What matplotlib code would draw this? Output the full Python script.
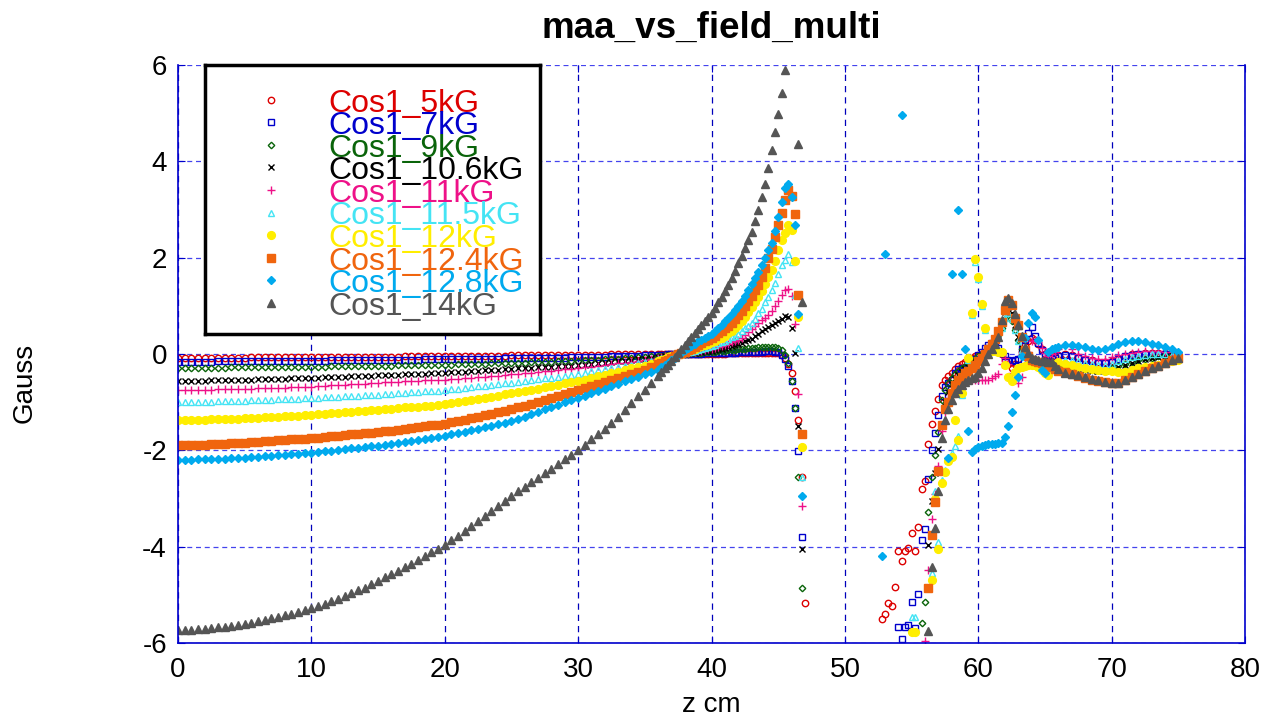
import numpy as np
import matplotlib
matplotlib.use('Agg')
import matplotlib.pyplot as plt

plt.rcParams['font.family'] = ['Liberation Sans', 'DejaVu Sans']
plt.rcParams['axes.unicode_minus'] = False

nan = np.nan
W, H = 1276, 725

# z 위치 (cm): 중앙부는 0.5 간격, 피크 근처는 0.25 간격
z_near = np.concatenate([np.arange(0, 36, 0.5), np.arange(36, 47.01, 0.25)])
z_far = np.concatenate([np.arange(52.75, 66.01, 0.25), np.arange(66.5, 75.01, 0.5)])

labels = ['Cos1_5kG', 'Cos1_7kG', 'Cos1_9kG', 'Cos1_10.6kG', 'Cos1_11kG',
          'Cos1_11.5kG', 'Cos1_12kG', 'Cos1_12.4kG', 'Cos1_12.8kG', 'Cos1_14kG']

# ---- z < 47 cm ----
b5_near = [-0.08, -0.08, -0.08, -0.08, -0.08, -0.08, -0.08, -0.08, -0.08, -0.08, -0.08, -0.07,
           -0.07, -0.07, -0.07, -0.07, -0.07, -0.07, -0.07, -0.07, -0.07, -0.07, -0.07, -0.06,
           -0.06, -0.06, -0.06, -0.06, -0.06, -0.06, -0.06, -0.06, -0.06, -0.06, -0.05, -0.05,
           -0.05, -0.05, -0.05, -0.05, -0.05, -0.05, -0.04, -0.04, -0.04, -0.04, -0.04, -0.04,
           -0.04, -0.04, -0.03, -0.03, -0.03, -0.03, -0.03, -0.03, -0.03, -0.03, -0.02, -0.02,
           -0.02, -0.02, -0.02, -0.02, -0.02, -0.01, -0.01, -0.01, -0.01, -0.01, -0.01, -0.01,
           -0.01, -0.01, 0.00, 0.00, 0.00, 0.00, 0.00, 0.00, 0.00, 0.01, 0.01, 0.01,
           0.01, 0.01, 0.01, 0.01, 0.01, 0.01, 0.01, 0.01, 0.01, 0.02, 0.02, 0.02,
           0.02, 0.02, 0.02, 0.02, 0.02, 0.02, 0.03, 0.03, 0.03, 0.03, 0.03, 0.03,
           0.02, -0.02, -0.08, -0.20, -0.40, -0.76, -1.38, -2.56, -5.16]
b7_near = [-0.16, -0.16, -0.16, -0.16, -0.16, -0.16, -0.15, -0.15, -0.15, -0.15, -0.15, -0.15,
           -0.15, -0.15, -0.15, -0.15, -0.14, -0.14, -0.14, -0.14, -0.14, -0.14, -0.14, -0.13,
           -0.13, -0.13, -0.13, -0.13, -0.13, -0.13, -0.12, -0.12, -0.12, -0.12, -0.12, -0.12,
           -0.12, -0.11, -0.11, -0.11, -0.11, -0.11, -0.11, -0.10, -0.10, -0.10, -0.10, -0.10,
           -0.10, -0.09, -0.09, -0.09, -0.09, -0.09, -0.08, -0.08, -0.08, -0.08, -0.08, -0.07,
           -0.07, -0.07, -0.06, -0.06, -0.06, -0.05, -0.05, -0.05, -0.04, -0.04, -0.03, -0.03,
           -0.02, -0.02, -0.02, -0.01, -0.01, -0.01, 0.00, 0.00, 0.00, 0.01, 0.01, 0.01,
           0.01, 0.01, 0.02, 0.02, 0.02, 0.02, 0.02, 0.03, 0.03, 0.03, 0.03, 0.03,
           0.04, 0.04, 0.04, 0.04, 0.05, 0.05, 0.05, 0.05, 0.06, 0.06, 0.06, 0.05,
           0.04, -0.02, -0.11, -0.24, -0.56, -1.13, -2.01, -3.79, nan]
b9_near = [-0.30, -0.30, -0.30, -0.30, -0.29, -0.29, -0.29, -0.29, -0.28, -0.28, -0.28, -0.28,
           -0.28, -0.27, -0.27, -0.27, -0.27, -0.27, -0.26, -0.26, -0.26, -0.26, -0.26, -0.25,
           -0.25, -0.25, -0.25, -0.25, -0.24, -0.24, -0.24, -0.24, -0.24, -0.23, -0.23, -0.23,
           -0.23, -0.23, -0.22, -0.22, -0.22, -0.22, -0.21, -0.21, -0.20, -0.20, -0.20, -0.19,
           -0.19, -0.19, -0.18, -0.18, -0.18, -0.17, -0.17, -0.16, -0.16, -0.15, -0.15, -0.15,
           -0.14, -0.13, -0.13, -0.12, -0.11, -0.10, -0.10, -0.09, -0.08, -0.07, -0.06, -0.05,
           -0.04, -0.04, -0.03, -0.02, -0.02, -0.01, 0.00, 0.00, 0.01, 0.01, 0.02, 0.02,
           0.03, 0.03, 0.04, 0.04, 0.05, 0.05, 0.06, 0.07, 0.07, 0.08, 0.09, 0.09,
           0.10, 0.10, 0.11, 0.12, 0.12, 0.13, 0.14, 0.14, 0.15, 0.15, 0.15, 0.14,
           0.13, 0.08, -0.02, -0.18, -0.56, -1.13, -2.56, -4.85, nan]
b106_near = [-0.57, -0.57, -0.56, -0.56, -0.56, -0.55, -0.55, -0.54, -0.54, -0.53, -0.53, -0.53,
             -0.52, -0.52, -0.51, -0.51, -0.51, -0.50, -0.50, -0.49, -0.49, -0.49, -0.48, -0.48,
             -0.47, -0.47, -0.46, -0.46, -0.45, -0.45, -0.44, -0.44, -0.43, -0.43, -0.42, -0.42,
             -0.41, -0.41, -0.40, -0.40, -0.39, -0.38, -0.37, -0.37, -0.36, -0.35, -0.34, -0.33,
             -0.33, -0.32, -0.31, -0.30, -0.29, -0.29, -0.28, -0.27, -0.26, -0.25, -0.25, -0.24,
             -0.23, -0.22, -0.20, -0.19, -0.18, -0.17, -0.15, -0.14, -0.13, -0.11, -0.10, -0.09,
             -0.07, -0.06, -0.05, -0.04, -0.03, -0.02, -0.01, 0.00, 0.01, 0.02, 0.03, 0.03,
             0.04, 0.05, 0.06, 0.06, 0.07, 0.08, 0.10, 0.11, 0.12, 0.14, 0.16, 0.18,
             0.20, 0.23, 0.26, 0.29, 0.32, 0.37, 0.42, 0.47, 0.52, 0.56, 0.60, 0.64,
             0.68, 0.72, 0.79, 0.76, 0.55, 0.02, -1.49, -4.05, nan]
b11_near = [-0.75, -0.75, -0.75, -0.74, -0.74, -0.74, -0.73, -0.73, -0.73, -0.72, -0.72, -0.72,
            -0.71, -0.71, -0.70, -0.70, -0.70, -0.69, -0.69, -0.68, -0.68, -0.67, -0.66, -0.65,
            -0.65, -0.64, -0.63, -0.62, -0.62, -0.61, -0.60, -0.59, -0.59, -0.58, -0.57, -0.56,
            -0.56, -0.55, -0.54, -0.54, -0.53, -0.52, -0.51, -0.50, -0.49, -0.48, -0.47, -0.46,
            -0.45, -0.43, -0.42, -0.41, -0.40, -0.39, -0.37, -0.36, -0.35, -0.34, -0.32, -0.31,
            -0.30, -0.28, -0.26, -0.25, -0.23, -0.21, -0.19, -0.18, -0.16, -0.14, -0.12, -0.10,
            -0.08, -0.07, -0.05, -0.04, -0.03, -0.02, -0.01, 0.01, 0.02, 0.03, 0.04, 0.05,
            0.06, 0.07, 0.08, 0.10, 0.11, 0.13, 0.15, 0.17, 0.19, 0.21, 0.24, 0.27,
            0.30, 0.34, 0.39, 0.45, 0.52, 0.58, 0.64, 0.70, 0.75, 0.82, 0.90, 1.00,
            1.10, 1.22, 1.33, 1.34, 1.20, 0.62, -0.84, -3.15, nan]
b115_near = [-1.00, -1.00, -1.00, -0.99, -0.99, -0.99, -0.98, -0.98, -0.98, -0.97, -0.97, -0.96,
             -0.96, -0.95, -0.95, -0.94, -0.94, -0.93, -0.93, -0.92, -0.92, -0.91, -0.90, -0.89,
             -0.89, -0.88, -0.87, -0.87, -0.86, -0.85, -0.85, -0.84, -0.83, -0.81, -0.80, -0.79,
             -0.78, -0.77, -0.76, -0.76, -0.75, -0.73, -0.72, -0.70, -0.69, -0.67, -0.66, -0.64,
             -0.63, -0.61, -0.60, -0.58, -0.56, -0.54, -0.52, -0.50, -0.49, -0.47, -0.45, -0.43,
             -0.41, -0.39, -0.36, -0.34, -0.32, -0.29, -0.27, -0.24, -0.22, -0.19, -0.17, -0.14,
             -0.11, -0.09, -0.08, -0.06, -0.04, -0.03, -0.01, 0.01, 0.02, 0.04, 0.05, 0.07,
             0.09, 0.11, 0.13, 0.15, 0.17, 0.19, 0.22, 0.25, 0.28, 0.31, 0.35, 0.38,
             0.42, 0.47, 0.53, 0.59, 0.65, 0.72, 0.85, 0.94, 1.08, 1.18, 1.32, 1.48,
             1.67, 1.85, 1.96, 2.07, 1.92, 1.22, 0.12, -2.55, nan]
b12_near = [-1.37, -1.37, -1.37, -1.36, -1.36, -1.35, -1.35, -1.35, -1.34, -1.34, -1.33, -1.33,
            -1.32, -1.31, -1.31, -1.30, -1.29, -1.29, -1.28, -1.27, -1.26, -1.25, -1.24, -1.23,
            -1.22, -1.21, -1.20, -1.19, -1.18, -1.17, -1.16, -1.15, -1.14, -1.13, -1.11, -1.10,
            -1.09, -1.08, -1.07, -1.05, -1.04, -1.02, -1.00, -0.98, -0.96, -0.94, -0.91, -0.89,
            -0.87, -0.84, -0.82, -0.79, -0.77, -0.74, -0.72, -0.69, -0.66, -0.64, -0.61, -0.59,
            -0.56, -0.53, -0.50, -0.46, -0.43, -0.40, -0.37, -0.34, -0.30, -0.27, -0.24, -0.20,
            -0.15, -0.12, -0.10, -0.07, -0.05, -0.03, -0.01, 0.01, 0.04, 0.06, 0.08, 0.11,
            0.14, 0.16, 0.19, 0.21, 0.24, 0.27, 0.31, 0.34, 0.38, 0.43, 0.48, 0.54,
            0.60, 0.68, 0.77, 0.87, 0.98, 1.08, 1.19, 1.31, 1.45, 1.60, 1.74, 1.93,
            2.15, 2.37, 2.52, 2.68, 2.57, 1.94, 0.77, -1.94, nan]
b124_near = [-1.89, -1.89, -1.89, -1.88, -1.88, -1.87, -1.87, -1.86, -1.85, -1.85, -1.84, -1.83,
             -1.82, -1.81, -1.80, -1.79, -1.78, -1.77, -1.76, -1.76, -1.75, -1.74, -1.72, -1.71,
             -1.70, -1.68, -1.67, -1.66, -1.64, -1.63, -1.62, -1.60, -1.59, -1.57, -1.55, -1.54,
             -1.52, -1.50, -1.48, -1.47, -1.45, -1.42, -1.39, -1.36, -1.33, -1.30, -1.27, -1.24,
             -1.21, -1.18, -1.15, -1.11, -1.07, -1.03, -0.99, -0.95, -0.91, -0.87, -0.83, -0.79,
             -0.75, -0.71, -0.67, -0.62, -0.58, -0.54, -0.50, -0.46, -0.41, -0.37, -0.33, -0.27,
             -0.21, -0.18, -0.15, -0.12, -0.08, -0.05, -0.01, 0.02, 0.05, 0.08, 0.11, 0.15,
             0.18, 0.22, 0.26, 0.30, 0.34, 0.38, 0.43, 0.48, 0.53, 0.59, 0.65, 0.72,
             0.80, 0.89, 0.99, 1.09, 1.20, 1.32, 1.44, 1.60, 1.78, 1.99, 2.19, 2.43,
             2.68, 2.92, 3.20, 3.40, 3.28, 2.90, 1.22, -1.67, nan]
b128_near = [-2.20, -2.20, -2.20, -2.19, -2.19, -2.18, -2.18, -2.17, -2.16, -2.16, -2.15, -2.14,
             -2.13, -2.12, -2.11, -2.10, -2.09, -2.08, -2.07, -2.06, -2.05, -2.04, -2.02, -2.01,
             -1.99, -1.98, -1.96, -1.95, -1.93, -1.91, -1.90, -1.88, -1.86, -1.84, -1.82, -1.80,
             -1.78, -1.76, -1.74, -1.72, -1.70, -1.67, -1.64, -1.61, -1.58, -1.55, -1.52, -1.49,
             -1.46, -1.43, -1.40, -1.35, -1.30, -1.25, -1.20, -1.15, -1.10, -1.05, -1.00, -0.96,
             -0.92, -0.87, -0.82, -0.77, -0.72, -0.67, -0.62, -0.57, -0.52, -0.47, -0.42, -0.38,
             -0.33, -0.28, -0.23, -0.18, -0.13, -0.08, -0.03, 0.03, 0.08, 0.12, 0.17, 0.21,
             0.26, 0.30, 0.34, 0.38, 0.42, 0.48, 0.54, 0.61, 0.68, 0.75, 0.83, 0.91,
             1.00, 1.10, 1.21, 1.33, 1.45, 1.58, 1.71, 1.85, 2.00, 2.15, 2.30, 2.55,
             2.85, 3.15, 3.45, 3.52, 3.25, 2.68, 0.84, -2.95, nan]
b14_near = [-5.73, -5.73, -5.72, -5.71, -5.70, -5.69, -5.67, -5.66, -5.64, -5.62, -5.60, -5.58,
            -5.55, -5.52, -5.49, -5.46, -5.42, -5.39, -5.35, -5.31, -5.27, -5.23, -5.18, -5.13,
            -5.08, -5.03, -4.97, -4.91, -4.85, -4.78, -4.71, -4.64, -4.57, -4.50, -4.42, -4.35,
            -4.27, -4.19, -4.11, -4.04, -3.97, -3.87, -3.77, -3.67, -3.57, -3.47, -3.36, -3.26,
            -3.16, -3.05, -2.95, -2.85, -2.76, -2.66, -2.57, -2.47, -2.38, -2.28, -2.18, -2.09,
            -1.99, -1.88, -1.77, -1.66, -1.55, -1.43, -1.30, -1.16, -1.02, -0.88, -0.74, -0.60,
            -0.45, -0.37, -0.30, -0.22, -0.14, -0.06, 0.02, 0.10, 0.18, 0.26, 0.35, 0.43,
            0.52, 0.60, 0.68, 0.77, 0.85, 0.96, 1.07, 1.19, 1.30, 1.44, 1.58, 1.73,
            1.88, 2.04, 2.20, 2.37, 2.54, 2.76, 2.99, 3.26, 3.53, 3.86, 4.23, 4.60,
            4.99, 5.41, 5.89, nan, nan, nan, 4.35, 1.07, nan]

# ---- z > 52 cm ----
b5_far = [-5.50, -5.40, -5.16, -5.23, -4.84, -4.10, -4.29, -4.10, -4.02, -3.72, -4.10, -3.60,
          -2.80, -2.63, -1.87, -1.45, -1.18, -0.93, -0.64, -0.53, -0.45, -0.39, -0.32, -0.25,
          -0.20, -0.16, -0.12, -0.08, -0.05, -0.02, 0.00, 0.05, 0.08, 0.10, 0.10, 0.05,
          0.00, -0.12, -0.20, -0.30, -0.20, -0.10, 0.05, 0.18, 0.28, 0.33, 0.30, 0.20,
          0.10, 0.00, -0.05, -0.07, -0.05, -0.02,
          0.00, -0.02, -0.06, -0.10, -0.13, -0.16, -0.17, -0.15, -0.10, -0.05, -0.01, 0.01,
          0.02, 0.02, 0.02, 0.02, 0.01, 0.00]
b7_far = [nan, nan, nan, nan, nan, -5.67, -5.92, -5.66, -5.62, -5.14, -5.69, -4.98,
          -3.86, -3.64, -2.60, -2.00, -1.65, -1.27, -0.87, -0.68, -0.60, -0.53, -0.39, -0.32,
          -0.30, -0.29, -0.22, -0.16, -0.11, -0.03, 0.04, 0.12, 0.19, 0.22, 0.20, 0.12,
          0.02, -0.05, -0.12, -0.15, -0.13, -0.11, 0.10, 0.30, 0.44, 0.57, 0.37, 0.22,
          0.08, -0.02, -0.08, -0.10, -0.08, -0.05,
          -0.02, -0.04, -0.08, -0.12, -0.15, -0.18, -0.19, -0.16, -0.10, -0.05, -0.02, 0.00,
          0.01, 0.01, 0.01, 0.00, 0.00, -0.02]
b9_far = [nan, nan, nan, nan, nan, nan, nan, nan, nan, nan, nan, nan,
          -5.59, -5.14, -3.29, -2.55, -2.10, -1.62, -0.95, -0.75, -0.60, -0.50, -0.42, -0.36,
          -0.30, -0.25, -0.20, -0.15, -0.10, -0.05, 0.00, 0.05, 0.10, 0.15, 0.25, 0.40,
          0.55, 0.72, 0.80, 0.68, 0.50, 0.30, 0.10, -0.05, -0.12, -0.15, -0.17, -0.18,
          -0.20, -0.22, -0.25, -0.20, -0.20, -0.22,
          -0.25, -0.28, -0.30, -0.32, -0.33, -0.34, -0.33, -0.30, -0.25, -0.20, -0.17, -0.13,
          -0.10, -0.08, -0.05, -0.03, -0.02, -0.02]
b106_far = [nan, nan, nan, nan, nan, nan, nan, nan, nan, nan, nan, nan,
            nan, nan, -3.96, -3.05, -2.48, -1.97, -1.45, -1.00, -0.78, -0.62, -0.52, -0.44,
            -0.38, -0.32, -0.27, -0.22, -0.17, -0.12, -0.07, -0.02, 0.03, 0.10, 0.22, 0.40,
            0.65, 0.88, 0.98, 0.85, 0.60, 0.35, 0.12, -0.05, -0.15, -0.20, -0.22, -0.24,
            -0.26, -0.28, -0.30, -0.27, -0.25, -0.26,
            -0.28, -0.30, -0.32, -0.34, -0.35, -0.36, -0.35, -0.32, -0.27, -0.22, -0.18, -0.14,
            -0.11, -0.08, -0.06, -0.04, -0.03, -0.03]
b11_far = [nan, nan, nan, nan, nan, nan, nan, nan, nan, nan, nan, nan,
           nan, -5.95, -4.48, -3.43, -2.90, -2.32, -1.60, -1.20, -0.91, -0.80, -0.70, -0.65,
           -0.60, -0.58, -0.56, -0.55, -0.54, -0.53, -0.53, -0.53, -0.54, -0.50, -0.45, -0.41,
           -0.21, -0.09, -0.20, -0.40, -0.55, -0.61, -0.47, -0.20, 0.05, 0.26, 0.30, 0.25,
           0.12, 0.02, -0.05, 0.00, 0.05, 0.10,
           0.19, 0.10, 0.00, -0.05, -0.08, -0.10, -0.10, -0.07, -0.03, 0.00, 0.03, 0.05,
           0.06, 0.06, 0.06, 0.05, 0.04, 0.02]
b115_far = [nan, nan, nan, nan, nan, nan, nan, nan, nan, -5.45, -5.45, nan,
            nan, nan, nan, -4.54, -2.84, -3.91, -2.61, -2.40, -2.20, -2.06, -1.90, -1.71,
            -0.85, -0.45, -0.12, 0.80, 1.90, 1.55, 1.00, 0.50, 0.05, 0.08, 0.18, 0.35,
            0.55, 0.75, 0.85, 0.72, 0.50, 0.28, 0.08, -0.06, -0.12, -0.16, -0.18, -0.20,
            -0.22, -0.24, -0.26, -0.22, -0.18, -0.15,
            -0.12, -0.12, -0.15, -0.18, -0.21, -0.23, -0.23, -0.20, -0.15, -0.10, -0.07, -0.04,
            -0.02, -0.01, -0.01, -0.01, -0.02, -0.03]
b12_far = [nan, nan, nan, nan, nan, nan, nan, nan, nan, -5.78, -5.78, nan,
           nan, nan, nan, -4.70, -3.00, -4.05, -2.68, -2.45, -2.23, -2.13, -1.37, -1.78,
           -0.80, -0.45, -0.08, 0.86, 1.97, 1.60, 1.04, 0.53, 0.05, 0.06, 0.06, 0.05,
           0.05, -0.23, -0.47, -0.57, -0.37, -0.30, -0.27, -0.25, -0.23, -0.22, -0.23, -0.26,
           -0.33, -0.40, -0.44, -0.30, -0.20, -0.16,
           -0.20, -0.23, -0.26, -0.29, -0.31, -0.33, -0.35, -0.36, -0.37, -0.37, -0.34, -0.30,
           -0.27, -0.25, -0.22, -0.18, -0.15, -0.12]
b124_far = [nan, nan, nan, nan, nan, nan, nan, nan, nan, nan, nan, nan,
            nan, nan, -4.85, -3.75, -3.08, -2.42, -1.47, -1.15, -1.00, -0.82, -0.65, -0.55,
            -0.47, -0.40, -0.35, -0.30, -0.22, -0.15, -0.08, 0.01, 0.10, 0.20, 0.32, 0.48,
            0.67, 0.91, 1.12, 1.02, 0.74, 0.60, 0.36, 0.08, -0.05, -0.12, -0.15, -0.17,
            -0.19, -0.21, -0.25, -0.28, -0.32, -0.35,
            -0.38, -0.42, -0.46, -0.50, -0.53, -0.56, -0.58, -0.60, -0.60, -0.55, -0.48, -0.42,
            -0.36, -0.30, -0.25, -0.19, -0.13, -0.08]
b128_far = [-4.20, 2.07, nan, nan, nan, nan, 4.96, nan, nan, nan, nan, nan,
            nan, nan, nan, nan, nan, nan, nan, nan, -2.15, 1.67, nan, 3.00,
            1.67, 0.10, -1.59, -2.03, -1.98, -1.93, -1.90, -1.88, -1.87, -1.86, -1.86, -1.85,
            -1.85, -1.72, -1.49, -1.20, -0.85, -0.47, -0.05, 0.33, 0.64, 0.86, 0.77, 0.30,
            -0.33, -0.40, 0.05, 0.10, 0.12, 0.15,
            0.18, 0.19, 0.17, 0.14, 0.11, 0.08, 0.10, 0.14, 0.20, 0.24, 0.26, 0.26,
            0.24, 0.21, 0.18, 0.15, 0.10, 0.05]
b14_far = [nan, nan, nan, nan, nan, nan, nan, nan, nan, nan, nan, nan,
           nan, nan, -5.76, -4.43, -3.62, -2.84, -1.75, -1.37, -1.15, -0.95, -0.82, -0.72,
           -0.64, -0.58, -0.54, -0.50, -0.47, -0.40, -0.30, -0.15, 0.01, 0.10, 0.20, 0.36,
           0.70, 1.09, 1.16, 1.05, 0.84, 0.60, 0.38, 0.15, 0.02, -0.09, -0.10, -0.12,
           -0.14, -0.15, -0.16, -0.16, -0.25, -0.32,
           -0.40, -0.42, -0.44, -0.47, -0.51, -0.54, -0.58, -0.60, -0.61, -0.55, -0.48, -0.42,
           -0.36, -0.30, -0.25, -0.19, -0.13, -0.09]

near_vals = [b5_near, b7_near, b9_near, b106_near, b11_near,
             b115_near, b12_near, b124_near, b128_near, b14_near]
far_vals = [b5_far, b7_far, b9_far, b106_far, b11_far,
            b115_far, b12_far, b124_far, b128_far, b14_far]

# 색상 / 마커 (gnuplot 스타일)
colors = ['#dd0000', '#0000cc', '#0a640a', '#000000', '#ee1188',
          '#44e4f4', '#ffee00', '#f0650e', '#00aaee', '#555555']
markers = ['o', 's', 'D', 'x', '+', '^', 'o', 's', 'D', '^']
sizes = [4.6, 4.3, 3.3, 4.8, 5.8, 5.0, 5.6, 5.6, 3.9, 5.6]
filled = [False, False, False, True, True, False, True, True, True, True]

fig = plt.figure(figsize=(W / 100, H / 100), dpi=100)
ax = fig.add_axes([178 / W, 1 - 643 / H, 1067 / W, 578 / H])

z_all = np.concatenate([z_near, z_far])
for i in range(len(labels)):
    assert len(near_vals[i]) == len(z_near), (labels[i], len(near_vals[i]))
    assert len(far_vals[i]) == len(z_far), (labels[i], len(far_vals[i]))
    y = np.concatenate([near_vals[i], far_vals[i]])
    ax.plot(z_all, y, ls='none', marker=markers[i], ms=sizes[i],
            mec=colors[i], mfc=colors[i] if filled[i] else 'none', mew=1.0)

ax.set_xlim(0, 80)
ax.set_ylim(-6, 6)
ax.set_xticks(range(0, 81, 10))
ax.set_yticks(range(-6, 7, 2))
ax.tick_params(direction='in', length=5, color='#0000cc', labelsize=20,
               top=True, right=True)
ax.tick_params(axis='x', pad=10)
ax.tick_params(axis='y', pad=8)
ax.xaxis.grid(True, color='#0000bb', linestyle=(0, (5, 4)), linewidth=0.9)
ax.yaxis.grid(True, color='#4444ee', linestyle=(0, (4, 3)), linewidth=0.9)
ax.set_axisbelow(True)
for s in ['left', 'bottom', 'right']:
    ax.spines[s].set_color('#0000cc')
    ax.spines[s].set_linewidth(1.2)
ax.spines['top'].set_visible(False)

fig.text(711.5 / W, 1 - 28 / H, 'maa_vs_field_multi', ha='center', va='center',
         fontsize=26.5, fontweight='bold')
fig.text(711.5 / W, 1 - 705 / H, 'z cm', ha='center', va='center', fontsize=20)
fig.text(25 / W, 1 - 383 / H, 'Gauss', ha='center', va='center', fontsize=20,
         rotation=90)

# 범례 (직접 그림)
lax = fig.add_axes([205 / W, 1 - 334 / H, 335 / W, 269 / H])
lax.set_xlim(205, 540)
lax.set_ylim(334, 65)
lax.set_xticks([])
lax.set_yticks([])
for sp in lax.spines.values():
    sp.set_linewidth(2.5)
    sp.set_color('black')
for i, name in enumerate(labels):
    yy = 99.5 + i * 22.6
    lax.plot([271], [yy], ls='none', marker=markers[i], ms=sizes[i],
             mec=colors[i], mfc=colors[i] if filled[i] else 'none', mew=1.0)
    lax.text(328, yy + 12, name, color=colors[i], fontsize=23,
             ha='left', va='baseline')

fig.savefig('out.png', dpi=100)
